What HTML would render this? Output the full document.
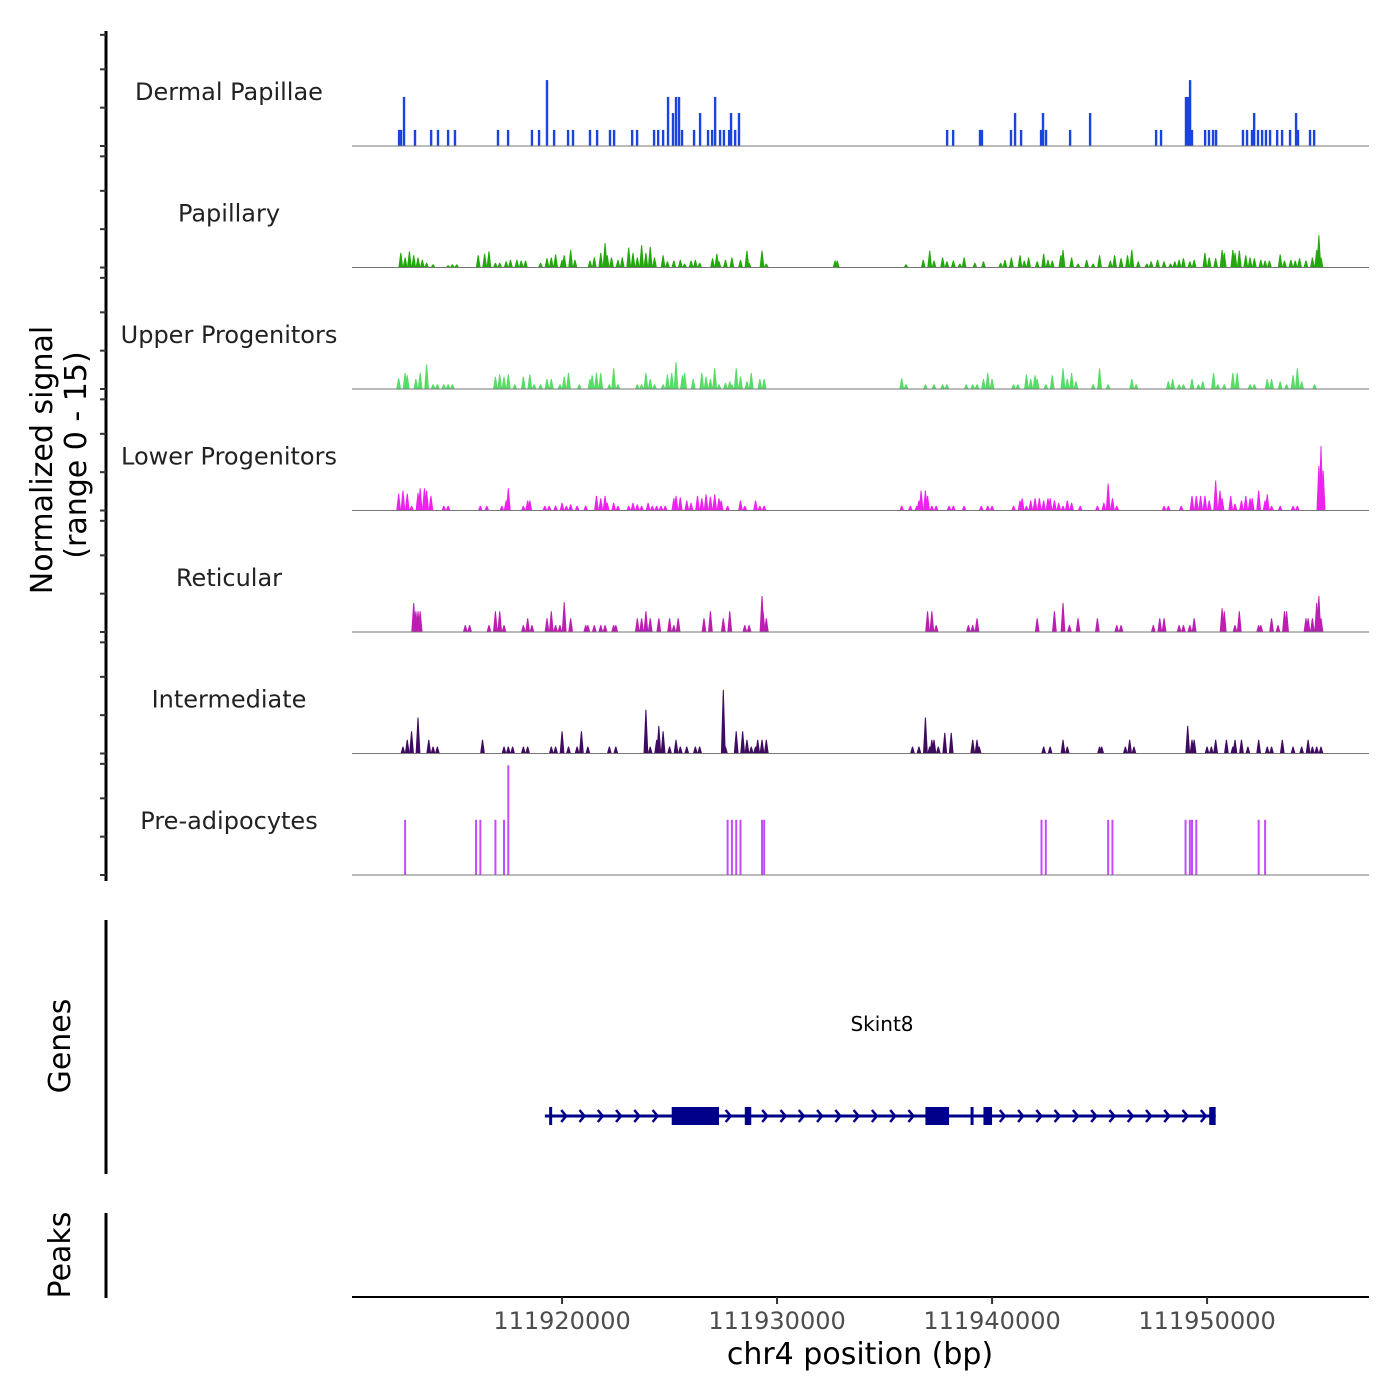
<!DOCTYPE html>
<html><head><meta charset="utf-8"><style>
html,body{margin:0;padding:0;background:#fff;}
svg{display:block;font-family:"DejaVu Sans","Liberation Sans",sans-serif;}
</style></head><body>
<svg id="chart" width="1400" height="1400" viewBox="0 0 1400 1400">
<g id="tracks"></g>
<g>
<line x1="106" y1="31" x2="106" y2="881" stroke="#000" stroke-width="3"/>
<g id="yticks"></g>
<text transform="translate(52,460) rotate(-90)" text-anchor="middle" font-size="30" fill="#000">Normalized signal</text>
<text transform="translate(86,455) rotate(-90)" text-anchor="middle" font-size="30" fill="#000">(range 0 - 15)</text>
</g>
<g>
<line x1="106" y1="920" x2="106" y2="1174" stroke="#000" stroke-width="3"/>
<text transform="translate(70,1046) rotate(-90)" text-anchor="middle" font-size="30" fill="#000">Genes</text>
<text x="882" y="1031" text-anchor="middle" font-size="20" fill="#000">Skint8</text>
<g id="gene"></g>
</g>
<g>
<line x1="106" y1="1213" x2="106" y2="1298" stroke="#000" stroke-width="3"/>
<text transform="translate(70,1255) rotate(-90)" text-anchor="middle" font-size="30" fill="#000">Peaks</text>
</g>
<g>
<line x1="352" y1="1297" x2="1369" y2="1297" stroke="#000" stroke-width="2"/>
<g id="xticks"></g>
<text x="860" y="1364" text-anchor="middle" font-size="30" fill="#000">chr4 position (bp)</text>
</g>
</svg>
<script>
// positions in kb offset from chr4:111900000; values on 0-15 scale
const trackNames = ["Dermal Papillae","Papillary","Upper Progenitors","Lower Progenitors","Reticular","Intermediate","Pre-adipocytes"];
const trackColors = ["#1a44dd","#22a80c","#55dd66","#ee22ee","#bb1eb0","#3f0a60","#c44cff"];
const xTickValues = [111920000,111930000,111940000,111950000];
const xTickLabels = ["111920000","111930000","111940000","111950000"];

const dpPos = [12.42,12.51,12.65,13.16,13.91,14.23,14.70,15.02,17.02,17.49,18.60,18.93,19.30,19.63,20.28,20.51,21.30,21.63,22.23,22.42,23.26,23.49,24.28,24.47,24.70,24.93,25.16,25.30,25.44,25.58,26.14,26.42,26.79,26.98,27.12,27.35,27.53,27.77,27.86,28.05,28.23,
37.91,38.19,39.44,39.53,40.88,41.07,41.35,42.28,42.37,42.51,43.63,44.56,47.63,47.86,49.02,49.12,49.21,49.30,49.91,50.09,50.28,50.42,51.67,51.86,52.09,52.19,52.37,52.56,52.74,52.93,53.26,53.49,53.86,54.14,54.23,54.79,54.98];
const dpVal = [2.1,2.1,6.4,2.1,2.1,2.1,2.1,2.1,2.1,2.1,2.1,2.1,8.6,2.1,2.1,2.1,2.1,2.1,2.1,2.1,2.1,2.1,2.1,2.1,2.1,6.4,4.3,6.4,6.4,2.1,2.1,4.3,2.1,2.1,6.4,2.1,2.1,2.1,4.3,2.1,4.3,
2.1,2.1,2.1,2.1,2.1,4.3,2.1,2.1,4.3,2.1,2.1,4.3,2.1,2.1,6.4,6.4,8.6,2.1,2.1,2.1,2.1,2.1,2.1,2.1,2.1,4.3,2.1,2.1,2.1,2.1,2.1,2.1,2.1,4.3,2.1,2.1,2.1];

const papPos = [12.5,12.7,12.9,13.1,13.3,13.5,13.7,14.0,14.7,14.9,15.1,16.1,16.4,16.6,16.9,17.1,17.4,17.6,17.9,18.1,18.3,19.0,19.3,19.5,19.7,20.0,20.1,20.4,20.6,21.3,21.5,21.8,22.0,22.1,22.3,22.6,22.8,23.1,23.3,23.5,23.7,23.9,24.1,24.3,24.7,24.9,25.2,25.5,25.7,26.0,26.2,26.4,27.0,27.2,27.3,27.6,27.9,28.3,28.6,28.7,29.3,29.5,32.7,32.8,
36.0,36.8,37.1,37.3,37.7,37.9,38.2,38.5,38.7,39.2,39.6,40.4,40.6,40.9,41.3,41.5,41.7,42.1,42.4,42.6,42.8,43.2,43.3,43.7,44.0,44.4,44.7,45.0,45.5,45.7,46.0,46.3,46.5,46.8,47.2,47.4,47.7,48.0,48.3,48.5,48.7,48.9,49.2,49.4,49.9,50.1,50.4,50.7,50.8,51.2,51.3,51.5,51.8,52.0,52.2,52.5,52.7,52.9,53.4,53.6,53.9,54.1,54.3,54.6,54.9,55.1,55.2,55.3];
const papVal = [1.9,1.3,2.1,1.6,1.3,1.0,0.6,0.4,0.3,0.4,0.4,1.6,1.8,2.1,0.6,0.6,0.8,1.0,1.0,0.9,0.9,0.6,1.2,1.3,1.7,1.0,1.6,2.3,1.0,0.9,1.3,1.9,3.2,1.6,1.3,1.0,1.3,2.6,1.9,1.3,2.9,1.9,2.7,1.3,1.6,0.8,0.9,1.0,0.5,0.9,1.0,0.6,1.2,1.8,0.8,1.0,1.3,1.0,2.2,0.6,2.2,0.5,0.9,0.9,
0.4,1.0,2.2,0.9,1.3,0.8,0.9,0.5,1.3,0.6,0.8,0.6,1.0,1.3,1.6,0.9,1.3,0.8,1.8,1.0,0.9,1.6,2.3,1.3,0.5,1.0,0.5,1.6,0.9,1.6,1.2,1.6,2.3,0.8,0.5,0.8,1.0,0.8,0.5,0.8,1.0,1.2,0.8,1.0,1.9,1.3,1.2,2.3,1.9,2.3,1.9,2.2,1.6,1.3,1.2,1.0,0.9,0.9,1.7,0.9,1.0,0.9,1.2,0.9,1.3,2.3,4.2,1.3];

const upPos = [12.4,12.7,12.8,13.2,13.4,13.7,14.0,14.2,14.5,14.7,14.9,16.9,17.1,17.3,17.5,17.8,18.2,18.5,18.7,19.0,19.3,19.5,19.9,20.1,20.3,20.8,21.3,21.4,21.6,21.8,22.2,22.4,22.6,23.5,23.7,23.9,24.1,24.3,24.7,24.9,25.1,25.3,25.6,25.7,26.1,26.5,26.7,26.9,27.1,27.3,27.6,27.8,27.9,28.1,28.3,28.6,28.8,29.2,29.4,
35.8,36.0,36.9,37.3,37.7,37.9,38.8,39.1,39.3,39.6,39.8,40.0,41.0,41.2,41.6,41.8,42.0,42.1,42.5,42.8,43.3,43.5,43.7,43.9,44.7,45.0,45.4,46.5,46.7,48.2,48.4,48.7,48.9,49.3,49.6,49.8,50.3,50.5,50.8,51.2,51.4,52.0,52.2,52.8,53.0,53.4,53.7,54.0,54.2,54.4,55.0];
const upVal = [1.4,2.1,1.8,1.3,2.1,3.2,0.6,0.6,0.6,0.6,0.6,1.6,1.9,1.6,1.9,0.6,1.6,1.9,0.6,0.6,1.3,1.3,0.6,1.6,2.1,0.6,1.3,1.8,2.1,2.1,0.6,2.7,0.6,0.6,0.6,2.1,1.3,0.6,0.6,1.9,2.1,3.5,1.8,2.1,1.3,2.1,1.6,1.3,2.7,0.6,0.8,1.0,0.6,2.7,1.6,1.0,2.1,1.3,1.3,
1.4,0.6,0.6,0.6,0.6,0.6,0.6,0.6,0.6,1.3,2.1,1.3,0.6,0.6,1.9,1.3,1.8,1.3,0.6,1.8,2.7,1.3,2.1,1.0,0.6,2.7,0.6,1.3,0.6,1.0,1.3,0.6,0.6,1.3,0.6,1.0,2.1,0.6,0.6,2.1,2.1,0.6,0.6,1.3,1.3,1.0,0.6,1.8,2.7,1.0,0.6];

const lpPos = [12.4,12.6,12.8,13.0,13.3,13.4,13.6,13.7,13.9,14.5,14.7,16.2,16.5,17.2,17.4,17.5,18.2,18.4,18.5,19.2,19.4,19.7,20.0,20.2,20.4,20.7,21.1,21.6,21.8,22.0,22.1,22.4,22.6,23.1,23.3,23.5,23.7,24.0,24.2,24.4,24.6,24.8,25.2,25.3,25.5,25.8,26.0,26.3,26.5,26.7,26.9,27.1,27.3,27.4,27.7,28.3,28.5,29.0,29.2,29.4,
35.8,36.2,36.5,36.6,36.7,36.9,37.0,37.2,37.4,38.0,38.2,38.7,39.5,39.8,40.0,41.0,41.3,41.4,41.6,41.8,42.0,42.2,42.4,42.6,42.7,42.9,43.1,43.3,43.5,43.7,44.1,44.9,45.2,45.4,45.6,45.8,48.0,48.2,48.8,49.3,49.5,49.7,49.9,50.1,50.4,50.6,50.7,51.1,51.3,51.6,51.8,52.0,52.1,52.4,52.7,52.8,53.0,53.4,54.0,54.2,55.2,55.3,55.4];
const lpVal = [2.2,2.6,2.2,0.6,2.3,2.9,2.9,2.6,1.9,0.6,0.6,0.6,0.6,0.6,1.3,2.9,0.6,1.3,1.3,0.6,0.6,0.6,1.0,0.6,0.8,0.6,0.6,1.9,1.6,1.9,1.0,1.0,0.6,0.6,1.0,0.8,0.6,1.0,0.6,0.6,0.6,0.6,1.6,1.9,1.7,1.3,1.0,1.9,1.6,2.1,1.8,2.1,1.6,1.3,0.6,1.3,0.6,1.3,0.6,0.6,
0.6,0.6,0.6,1.3,2.6,2.6,1.9,0.6,0.6,0.6,0.6,0.6,0.6,0.6,0.6,0.6,1.3,1.6,0.6,1.3,1.6,1.6,1.3,1.6,1.6,1.3,1.0,0.6,1.3,1.0,0.6,0.6,1.0,3.5,1.6,0.6,0.6,0.6,0.6,1.9,1.9,1.9,1.9,1.3,3.9,2.6,1.6,1.9,0.9,1.3,1.9,1.6,1.6,2.6,1.3,2.1,0.6,0.6,0.6,0.6,5.8,8.4,5.2];

const retPos = [13.1,13.2,13.3,13.4,15.5,15.7,16.6,16.9,17.1,17.3,18.2,18.4,18.6,19.3,19.5,19.7,19.9,20.1,20.4,21.1,21.2,21.5,21.8,22.0,22.4,22.5,23.5,23.7,23.9,24.1,24.5,25.0,25.2,25.4,26.6,26.9,27.5,27.8,28.5,28.7,29.3,29.35,29.5,
37.0,37.2,37.4,38.9,39.1,39.3,42.1,42.9,43.3,43.6,44.0,44.9,45.8,46.0,47.5,47.8,48.0,48.7,48.9,49.2,49.4,50.7,50.8,51.3,51.5,52.4,52.5,53.0,53.3,53.6,53.7,54.6,54.7,54.9,55.1,55.2,55.3];
const retVal = [3.8,2.7,2.7,2.7,0.9,0.9,0.9,2.7,2.7,0.9,0.9,1.8,0.9,1.8,2.7,0.9,0.9,3.9,1.8,0.9,0.9,0.9,0.9,0.9,0.9,0.9,1.8,1.8,2.7,1.8,1.8,1.8,0.9,1.8,1.8,2.7,1.8,2.7,0.9,0.9,4.7,2.7,1.8,
2.7,2.7,0.9,0.9,0.9,1.8,1.8,2.7,3.8,0.9,1.8,1.8,0.9,0.9,0.9,1.8,1.8,0.9,0.9,0.9,1.8,3.1,2.7,0.9,2.7,0.9,0.9,1.8,0.9,2.7,2.7,1.8,1.8,1.8,3.8,4.7,1.8];

const intPos = [12.6,12.8,13.0,13.3,13.8,14.0,14.2,16.3,17.3,17.5,17.7,18.2,18.4,19.5,19.7,20.0,20.3,20.7,20.9,21.2,22.2,22.5,23.9,24.1,24.4,24.5,24.7,25.0,25.3,25.5,25.8,26.2,26.4,27.5,27.6,28.1,28.4,28.6,28.8,29.0,29.1,29.3,29.5,
36.3,36.6,36.9,37.1,37.2,37.3,37.5,37.8,38.1,39.1,39.3,39.4,42.4,42.7,43.3,43.5,45.0,45.1,46.2,46.4,46.6,49.1,49.3,49.4,50.0,50.2,50.4,50.9,51.2,51.3,51.6,51.9,52.4,52.8,53.0,53.5,54.0,54.4,54.7,54.9,55.1,55.3];
const intVal = [0.9,1.8,2.9,4.7,1.8,0.9,0.9,1.8,0.9,0.9,0.9,0.9,0.9,0.9,0.9,2.9,0.9,0.9,2.9,0.9,0.9,0.9,5.7,0.9,1.8,3.6,2.9,0.9,1.8,0.9,0.9,0.9,0.9,8.3,0.9,2.9,2.9,1.8,0.9,0.9,1.8,1.8,1.8,
0.9,0.9,4.7,0.9,1.8,1.8,0.9,2.7,2.7,1.8,1.8,0.9,0.9,0.9,1.8,0.9,0.9,0.9,0.9,1.8,0.9,3.6,1.8,1.8,0.9,0.9,1.8,1.8,0.9,1.8,1.8,0.9,1.8,0.9,0.9,1.8,0.9,0.9,1.8,0.9,0.9,0.9];

const prePos = [12.7,16.0,16.2,16.9,17.3,17.5,27.7,27.9,28.1,28.3,29.3,29.4,42.3,42.5,45.4,45.6,49.0,49.2,49.3,49.5,52.4,52.7];
const preVal = [7.2,7.2,7.2,7.2,7.2,14.3,7.2,7.2,7.2,7.2,7.2,7.2,7.2,7.2,7.2,7.2,7.2,7.2,7.2,7.2,7.2,7.2];

const geneStart = 19.2, geneEnd = 50.4;
const exonStarts = [19.4,25.1,28.5,36.9,39.0,39.6,50.1];
const exonEnds = [19.5,27.3,28.8,38.0,39.1,40.0,50.4];

const NS = "http://www.w3.org/2000/svg";
function xs(kb){ return 352 + (kb - 10.23) * 21.5; }
function xsBp(bp){ return xs((bp - 111900000) / 1000); }
const PX_PER_UNIT = 115 / 15;
function base(k){ return 146 + k * 121.5; }
function ys(k, v){ return base(k) - v * PX_PER_UNIT; }
function mk(tag, attrs, parent){ const e = document.createElementNS(NS, tag); for (const a in attrs) e.setAttribute(a, attrs[a]); parent.appendChild(e); return e; }

const tracks = document.getElementById("tracks");
const trackData = [[dpPos,dpVal,"bar"],[papPos,papVal,"peak"],[upPos,upVal,"peak"],[lpPos,lpVal,"peak"],[retPos,retVal,"peak"],[intPos,intVal,"peak"],[prePos,preVal,"line"]];
trackData.forEach((td, k) => {
  const g = mk("g", {}, tracks);
  
  
  const lbl = mk("text", {x: 229, y: base(k) - 46, "text-anchor": "middle", "font-size": 24, fill: "#222"}, g);
  lbl.textContent = trackNames[k];
  
  
  const [pos, val, kind] = td;
  const col = trackColors[k];
  for (let i = 0; i < pos.length; i++) {
    const x = xs(pos[i]), y0 = base(k), y1 = ys(k, val[i]);
    let m;
    if (kind === "bar") {
      m = mk("rect", {x: x - 1.2, y: y1, width: 2.4, height: y0 - y1, fill: col}, g);
    } else if (kind === "line") {
      m = mk("rect", {x: x - 1, y: y1, width: 2, height: y0 - y1, fill: col}, g);
    } else {
      m = mk("polygon", {points: (x-2.4)+","+y0+" "+(x-0.5)+","+y1+" "+(x+0.5)+","+y1+" "+(x+2.4)+","+y0, fill: col}, g);
    }
    
    
  }
  const bl = mk("line", {x1: 352, x2: 1369, y1: base(k), y2: base(k), stroke: "#777", "stroke-width": 1}, g);
  
  
});

// y ticks
const yt = document.getElementById("yticks");
for (let k = 0; k < 7; k++) {
  [0, 5, 10, 14.5].forEach(v => {
    const y = ys(k, v);
    const t = mk("line", {x1: 100, x2: 106, y1: y, y2: y, stroke: "#333", "stroke-width": 2}, yt);
    
    
  });
}

// x ticks
const xt = document.getElementById("xticks");
xTickValues.forEach((v, i) => {
  const x = xsBp(v);
  const t = mk("line", {x1: x, x2: x, y1: 1297, y2: 1304, stroke: "#333", "stroke-width": 2}, xt);
  
  
  const l = mk("text", {x: x, y: 1329, "text-anchor": "middle", "font-size": 24, fill: "#4d4d4d"}, xt);
  l.textContent = xTickLabels[i];
  
  
});

// gene model
const gg = document.getElementById("gene");
const gy = 1116;
const gl = mk("line", {x1: xs(geneStart), x2: xs(geneEnd), y1: gy, y2: gy, stroke: "#00008b", "stroke-width": 3}, gg);


for (let kb = geneStart + 0.05; kb < geneEnd; kb += 0.85) {
  let inExon = false;
  for (let j = 0; j < exonStarts.length; j++) if (kb > exonStarts[j] - 0.2 && kb < exonEnds[j] + 0.2) inExon = true;
  if (inExon) continue;
  const x = xs(kb);
  const c = mk("polyline", {points: (x-3)+","+(gy-6)+" "+(x+2)+","+gy+" "+(x-3)+","+(gy+6), fill: "none", stroke: "#00008b", "stroke-width": 2.5}, gg);
  
  
}
for (let j = 0; j < exonStarts.length; j++) {
  const x0 = xs(exonStarts[j]), x1 = xs(exonEnds[j]);
  const e = mk("rect", {x: x0, y: gy - 9, width: Math.max(x1 - x0, 3), height: 18, fill: "#00008b"}, gg);
  
  
}
</script>
</body></html>
